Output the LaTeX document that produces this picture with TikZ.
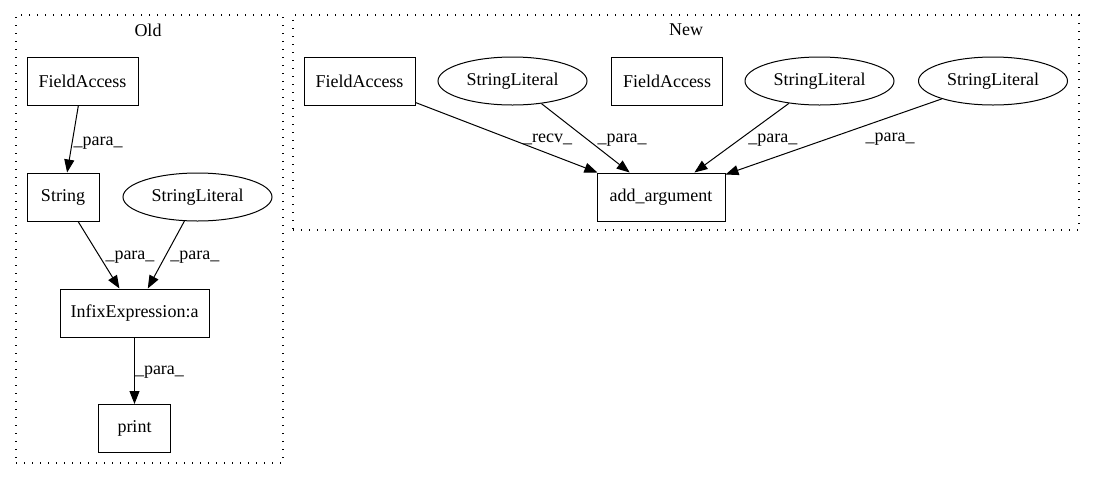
\documentclass[tikz,border=0pt]{standalone}
\usepackage{fontspec}
\setmainfont{Liberation Serif}
\usepackage{tikz}
\usetikzlibrary{positioning, shapes.geometric, arrows.meta}

\begin{document}
\begin{tikzpicture}[x=1pt, y=-1pt, font=\fontsize{18}{22}\selectfont]
% style: Cluster_style
\tikzstyle{Cluster_style}=[draw,line width=1.2pt,dash pattern=on 1.3pt off 6.7pt,inner sep=0pt]
% style: Title_style
\tikzstyle{Title_style}=[inner sep=0pt]
% style: Box_style
\tikzstyle{Box_style}=[rectangle,draw,line width=1pt,minimum height=48pt,inner sep=0pt]
% style: Literal_style
\tikzstyle{Literal_style}=[ellipse,draw,line width=1pt,minimum width=149pt,minimum height=48pt,inner sep=0pt]
% style: defaultEdge
\tikzstyle{defaultEdge}=[line width=1pt,-{Triangle[length=13pt,width=10pt]}]
% style: defaultLabel
\tikzstyle{defaultLabel}=[anchor=west,inner sep=0pt]

\useasboundingbox (0, 0) rectangle (1095, 480);

% cluster: old_cluster
\node[Cluster_style, minimum width=267pt, minimum height=448pt] (old_cluster) at (149.5, 239) {};
\node[Title_style] (old_title) at (148, 30) {Old};

% node: field_access
\node[Box_style, minimum width=111pt] (field_access) at (82.5, 81) {FieldAccess};
% node: string
\node[Box_style, minimum width=72pt] (string) at (63, 197) {String};
% node: string_literal
\node[Literal_style] (string_literal) at (197.5, 197) {StringLiteral};
% node: infix_expression
\node[Box_style, minimum width=149pt] (infix_expression) at (134.5, 313) {InfixExpression:a};
% node: print
\node[Box_style, minimum width=72pt] (print) at (134.5, 428.5) {print};
% end of cluster: old_cluster

% cluster: new_cluster
\node[Cluster_style, minimum width=786pt, minimum height=215pt] (new_cluster) at (686, 122.5) {};
\node[Title_style] (new_title) at (686, 30) {New};

% node: field_access_1
\node[Box_style, minimum width=111pt] (field_access_1) at (359.5, 81) {FieldAccess};
% node: string_literal_1
\node[Literal_style] (string_literal_1) at (512.5, 81) {StringLiteral};
% node: field_access_2
\node[Box_style, minimum width=111pt] (field_access_2) at (667, 81) {FieldAccess};
% node: string_literal_2
\node[Literal_style] (string_literal_2) at (819.5, 81) {StringLiteral};
% node: string_literal_3
\node[Literal_style] (string_literal_3) at (993, 81) {StringLiteral};
% node: add_argument
\node[Box_style, minimum width=128pt] (add_argument) at (661, 197) {add\_argument};
% end of cluster: new_cluster

% edge from field_access to string
\draw[defaultEdge] (field_access) to node [defaultLabel, pos=0.56, xshift=1pt] {\_para\_} (string);

% edge from string to infix_expression
\draw[defaultEdge] (string) to node [defaultLabel, pos=0.53, xshift=5pt] {\_para\_} (infix_expression);

% edge from string_literal to infix_expression
\draw[defaultEdge] (string_literal) to node [defaultLabel, pos=0.53, xshift=5pt] {\_para\_} (infix_expression);

% edge from infix_expression to print
\draw[defaultEdge] (infix_expression) to node [defaultLabel, pos=0.52] {\_para\_} (print);

% edge from field_access_1 to add_argument
\draw[defaultEdge] (field_access_1) to node [defaultLabel, pos=0.534, xshift=10pt] {\_recv\_} (add_argument);

% edge from string_literal_1 to add_argument
\draw[defaultEdge] (string_literal_1) to node [defaultLabel, pos=0.528, xshift=9pt] {\_para\_} (add_argument);

% edge from string_literal_2 to add_argument
\draw[defaultEdge] (string_literal_2) to node [defaultLabel, pos=0.53, xshift=9pt] {\_para\_} (add_argument);

% edge from string_literal_3 to add_argument
\draw[defaultEdge] (string_literal_3) to node [defaultLabel, pos=0.53, xshift=38pt] {\_para\_} (add_argument);

\end{tikzpicture}
\end{document}
